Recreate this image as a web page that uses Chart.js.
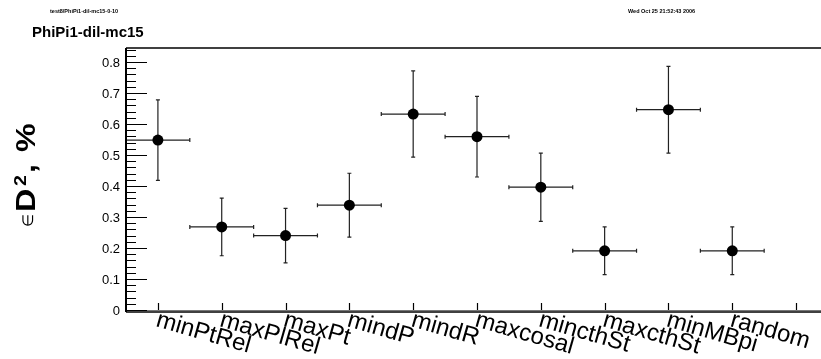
<!DOCTYPE html>
<html>
<head>
<meta charset="utf-8">
<script src="https://cdn.jsdelivr.net/npm/chart.js@4.4.1/dist/chart.umd.min.js"></script>
<style>
  html, body { margin: 0; padding: 0; background: #fff; overflow: hidden; }
  #wrap { width: 840px; height: 359px; }
</style>
</head>
<body>
<div id="wrap"><canvas id="cut_chart" width="840" height="359"></canvas></div>
<script>
// cut names along the x axis (last bin is left empty)
const categories = ['minPtRel', 'maxPlRel', 'maxPt', 'mindP', 'mindR', 'maxcosal', 'mincthSt', 'maxcthSt', 'minMBpi', 'random'];
// efficiency values and their errors
const values = [0.548, 0.268, 0.240, 0.338, 0.632, 0.559, 0.396, 0.191, 0.646, 0.191];
const errors = [0.130, 0.093, 0.088, 0.103, 0.139, 0.130, 0.110, 0.077, 0.140, 0.077];
const yTickLabels = ['0', '0.1', '0.2', '0.3', '0.4', '0.5', '0.6', '0.7', '0.8'];
const nBins = 11;

const title = 'PhiPi1-dil-mc15';
const fileLabel = 'test8/PhiPi1-dil-mc15-0-10';
const dateLabel = 'Wed Oct 25 21:52:43 2006';

const FONT = '"Liberation Sans", Arial, Helvetica, sans-serif';

function points() {
    let out = [];
    for (let i = 0; i < values.length; i++) {
        out.push({x: i, y: values[i]});
    }
    return out;
}

// frame, ticks, error bars and all text are drawn here from the scales
const rootStyle = {
    id: 'rootStyle',
    beforeDatasetsDraw(chart) {
        const ctx = chart.ctx;
        const xs = chart.scales.x;
        const ys = chart.scales.y;
        ctx.save();
        ctx.strokeStyle = '#222';
        ctx.lineWidth = 1.2;
        for (let i = 0; i < values.length; i++) {
            const px = xs.getPixelForValue(i);
            const py = ys.getPixelForValue(values[i]);
            const top = ys.getPixelForValue(values[i] + errors[i]);
            const bot = ys.getPixelForValue(values[i] - errors[i]);
            const left = xs.getPixelForValue(i - 0.5);
            const right = xs.getPixelForValue(i + 0.5);
            ctx.beginPath();
            ctx.moveTo(px, top); ctx.lineTo(px, bot);
            ctx.moveTo(px - 2, top); ctx.lineTo(px + 2, top);
            ctx.moveTo(px - 2, bot); ctx.lineTo(px + 2, bot);
            ctx.moveTo(left, py); ctx.lineTo(right, py);
            ctx.moveTo(left, py - 2); ctx.lineTo(left, py + 2);
            ctx.moveTo(right, py - 2); ctx.lineTo(right, py + 2);
            ctx.stroke();
        }
        ctx.restore();
    },
    afterDraw(chart) {
        const ctx = chart.ctx;
        const a = chart.chartArea;
        const xs = chart.scales.x;
        const ys = chart.scales.y;
        ctx.save();

        // frame
        ctx.strokeStyle = '#000';
        ctx.lineWidth = 1.5;
        ctx.beginPath();
        ctx.moveTo(a.left, a.top); ctx.lineTo(a.right, a.top);
        ctx.stroke();
        ctx.lineWidth = 2;
        ctx.beginPath();
        ctx.moveTo(a.left, a.top); ctx.lineTo(a.left, a.bottom + 2);
        ctx.stroke();
        ctx.strokeStyle = '#777';
        ctx.lineWidth = 1;
        ctx.beginPath();
        ctx.moveTo(a.left, a.bottom + 0.5); ctx.lineTo(a.right, a.bottom + 0.5);
        ctx.stroke();
        ctx.strokeStyle = '#000';
        ctx.lineWidth = 1.6;
        ctx.beginPath();
        ctx.moveTo(a.left, a.bottom + 2); ctx.lineTo(a.right, a.bottom + 2);
        ctx.stroke();

        // y ticks: major every 0.1, minor every 0.02
        ctx.lineWidth = 1.2;
        ctx.beginPath();
        for (let k = 0; k * 0.02 <= ys.max + 1e-9; k++) {
            const py = Math.round(ys.getPixelForValue(k * 0.02)) + 0.5;
            const len = (k % 5 === 0) ? 21 : 10;
            ctx.moveTo(a.left, py); ctx.lineTo(a.left + len, py);
        }
        ctx.stroke();

        // x ticks at bin centres
        ctx.beginPath();
        for (let i = 0; i < nBins; i++) {
            const px = Math.round(xs.getPixelForValue(i)) + 0.5;
            ctx.moveTo(px, a.bottom); ctx.lineTo(px, a.bottom - 7);
        }
        ctx.stroke();

        // y tick labels
        ctx.fillStyle = '#000';
        ctx.font = '13px ' + FONT;
        ctx.textAlign = 'right';
        ctx.textBaseline = 'middle';
        yTickLabels.forEach((lab, k) => {
            ctx.fillText(lab, 120, ys.getPixelForValue(k * 0.1) + 1);
        });

        // x labels, tilted
        ctx.font = '24px ' + FONT;
        ctx.textAlign = 'left';
        ctx.textBaseline = 'alphabetic';
        categories.forEach((lab, i) => {
            const px = xs.getPixelForValue(i);
            ctx.save();
            ctx.translate(px - 3, a.bottom + 16);
            ctx.rotate(16 * Math.PI / 180);
            ctx.fillText(lab, 0, 0);
            ctx.restore();
        });

        // y axis title: "∈ D², %"
        ctx.save();
        ctx.translate(35, 227);
        ctx.rotate(-Math.PI / 2);
        ctx.textAlign = 'left';
        ctx.font = '15px ' + FONT;
        ctx.fillText('\u2208', 0, -2);
        ctx.save();
        ctx.scale(1.15, 1);
        ctx.font = 'bold 28px ' + FONT;
        ctx.fillText('D', 15 / 1.15, 0);
        ctx.font = 'bold 17px ' + FONT;
        ctx.fillText('2', 41 / 1.15, -9);
        ctx.font = 'bold 28px ' + FONT;
        ctx.fillText(',', 54 / 1.15, 0);
        ctx.fillText('%', 75 / 1.15, 0);
        ctx.restore();
        ctx.restore();

        // header texts
        ctx.font = 'bold 5.5px ' + FONT;
        ctx.fillText(fileLabel, 50, 13);
        ctx.fillText(dateLabel, 628, 13);
        ctx.font = 'bold 15px ' + FONT;
        ctx.fillText(title, 32, 37);

        ctx.restore();
    }
};

const chart = new Chart(document.getElementById('cut_chart'), {
    type: 'scatter',
    data: {
        datasets: [{
            label: title,
            data: points(),
            backgroundColor: '#000',
            borderWidth: 0,
            pointRadius: 5.5,
            pointHoverRadius: 5.5
        }]
    },
    options: {
        responsive: false,
        animation: false,
        devicePixelRatio: 1,
        layout: {
            padding: {left: 126, right: 12, top: 48, bottom: 49}
        },
        plugins: {
            legend: {display: false},
            tooltip: {enabled: false},
            title: {display: false}
        },
        scales: {
            x: {type: 'linear', min: -0.5, max: nBins - 0.5, display: false},
            y: {type: 'linear', min: 0, max: 0.845, display: false}
        }
    },
    plugins: [rootStyle]
});
</script>
</body>
</html>
